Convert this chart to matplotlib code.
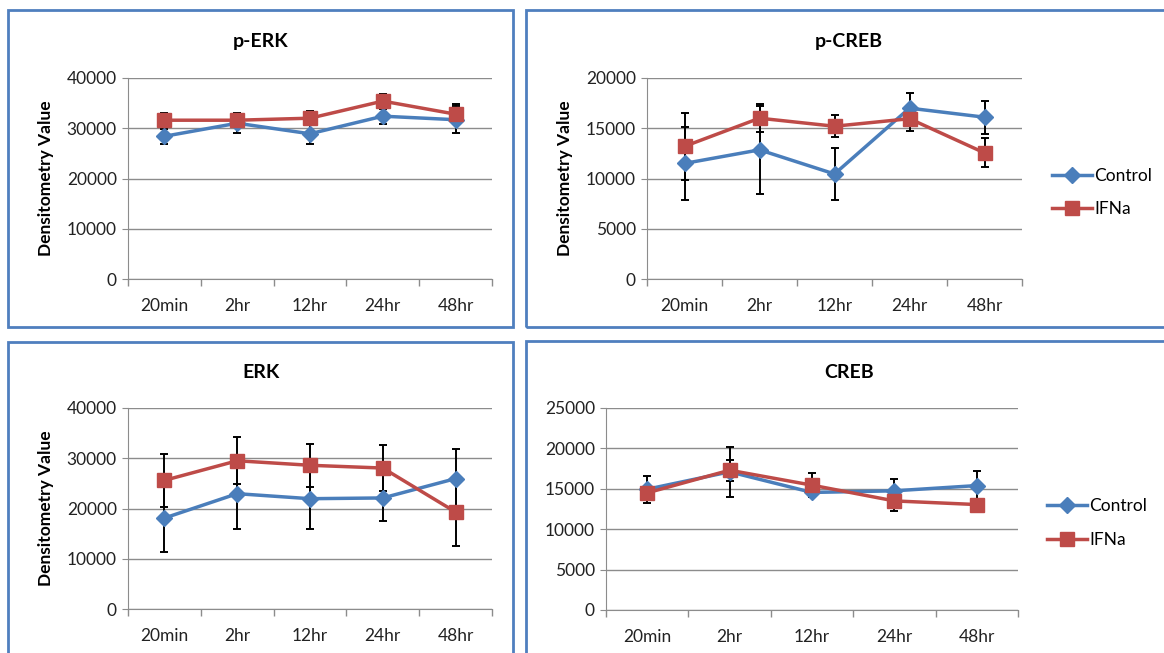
import matplotlib.pyplot as plt
from matplotlib.patches import Rectangle

plt.rcParams['font.family'] = ['Lato', 'DejaVu Sans']

W, H = 1164, 653

times = ['20min', '2hr', '12hr', '24hr', '48hr']

# p-ERK
perk_ctrl = [28400, 31000, 28900, 32400, 31700]
perk_ctrl_err = [1500, 2000, 2000, 1600, 2700]
perk_ifn = [31600, 31600, 32000, 35400, 32800]
perk_ifn_err = [1400, 1200, 1400, 1500, 2000]

# p-CREB
pcreb_ctrl = [11500, 12850, 10450, 17000, 16100]
pcreb_ctrl_err = [3600, 4400, 2600, 1550, 1650]
pcreb_ifn = [13200, 16000, 15200, 15950, 12550]
pcreb_ifn_err = [3300, 1400, 1100, 1200, 1450]

# ERK
erk_ctrl = [18100, 22950, 21950, 22100, 25950]
erk_ctrl_err = [6800, 7100, 6000, 4500, 5800]
erk_ifn = [25600, 29500, 28600, 28050, 19300]
erk_ifn_err = [5300, 4700, 4300, 4600, 6800]

# CREB
creb_ctrl = [14950, 17100, 14550, 14750, 15400]
creb_ctrl_err = [1650, 3100, 600, 1500, 1800]
creb_ifn = [14500, 17300, 15450, 13500, 13050]
creb_ifn_err = [700, 1300, 1450, 1200, 500]

BLUE = '#4A7EBB'
RED = '#BE4B48'
GRID = '#8C8C8C'

fig = plt.figure(figsize=(W / 100, H / 100), dpi=100)

# panel borders (pixel boxes: left, top, right, bottom)
for l, t, r, b in [(8, 10, 513, 327), (526, 10, 1175, 327),
                   (8, 342, 513, 665), (526, 341, 1175, 665)]:
    fig.patches.append(Rectangle((l / W, 1 - b / H), (r - l) / W, (b - t) / H,
                                 transform=fig.transFigure, fill=False,
                                 edgecolor='#4F7FBE', linewidth=2.0))


def add_ax(l, t, r, b):
    return fig.add_axes([l / W, 1 - b / H, (r - l) / W, (b - t) / H])


def panel(ax, title, title_xy, ctrl, ctrl_err, ifn, ifn_err, ymax, ystep,
          ylabel_x=None):
    x = range(len(times))
    ax.errorbar(x, ctrl, yerr=ctrl_err, fmt='none', ecolor='black',
                elinewidth=1.4, capsize=3.2, capthick=1.4, zorder=2)
    ax.errorbar(x, ifn, yerr=ifn_err, fmt='none', ecolor='black',
                elinewidth=1.4, capsize=3.2, capthick=1.4, zorder=2)
    ax.plot(x, ctrl, color=BLUE, marker='D', markersize=8.5, linewidth=2.5,
            label='Control', zorder=3)
    ax.plot(x, ifn, color=RED, marker='s', markersize=9.5, linewidth=2.5,
            label='IFNa', zorder=4)
    ax.set_xlim(-0.5, len(times) - 0.5)
    ax.set_ylim(0, ymax)
    ax.set_yticks(range(0, ymax + 1, ystep))
    ax.set_xticks(list(x))
    ax.set_xticklabels(times)
    ax.set_xticks([i - 0.5 for i in range(len(times) + 1)], minor=True)
    ax.tick_params(axis='x', which='major', length=0, pad=14, labelsize=12.5,
                   colors='#222222')
    ax.tick_params(axis='x', which='minor', length=5, color=GRID, width=1)
    ax.tick_params(axis='y', length=4, color=GRID, labelsize=12.5,
                   colors='#222222', pad=4)
    ax.grid(axis='y', color=GRID, linewidth=1)
    ax.set_axisbelow(True)
    for s in ['top', 'right']:
        ax.spines[s].set_visible(False)
    for s in ['left', 'bottom']:
        ax.spines[s].set_color(GRID)
    fig.text(title_xy[0] / W, 1 - title_xy[1] / H, title, fontsize=14,
             fontweight='bold', ha='center', va='center')
    if ylabel_x is not None:
        ax.set_ylabel('Densitometry Value', fontsize=12.5, fontweight='bold')
        bb = ax.get_position()
        # label anchor is its right edge, so shift by half its height
        ax.yaxis.set_label_coords((ylabel_x + 8) / W / bb.width - bb.x0 / bb.width, 0.5)


def legend_at(x, y):
    h, lab = ax2.get_legend_handles_labels()
    fig.legend(h, lab, loc='center left', bbox_to_anchor=(x / W, 1 - y / H),
               frameon=False, fontsize=12.5, handlelength=2.3,
               labelspacing=1.0, handletextpad=0.15, borderpad=0,
               borderaxespad=0)


ax1 = add_ax(128, 78, 492, 279)
panel(ax1, 'p-ERK', (261, 42), perk_ctrl, perk_ctrl_err, perk_ifn, perk_ifn_err,
      40000, 10000, ylabel_x=46)

ax2 = add_ax(647, 78, 1022, 279)
panel(ax2, 'p-CREB', (849, 41), pcreb_ctrl, pcreb_ctrl_err, pcreb_ifn,
      pcreb_ifn_err, 20000, 5000, ylabel_x=565)
legend_at(1052, 192.5)

ax3 = add_ax(128, 408, 492, 609)
panel(ax3, 'ERK', (261, 372), erk_ctrl, erk_ctrl_err, erk_ifn, erk_ifn_err,
      40000, 10000, ylabel_x=46)

ax4 = add_ax(606, 408, 1018, 610)
panel(ax4, 'CREB', (849, 372), creb_ctrl, creb_ctrl_err, creb_ifn, creb_ifn_err,
      25000, 5000)
legend_at(1047, 523)

fig.savefig('out.png', dpi=100)
